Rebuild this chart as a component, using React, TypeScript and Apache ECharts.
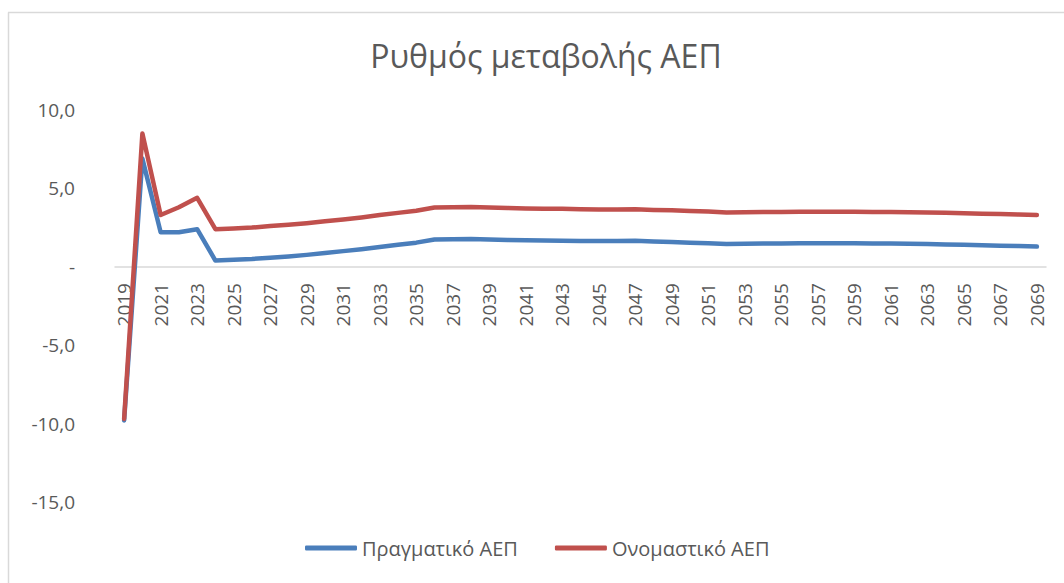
import React, { useEffect, useRef } from "react";
import * as echarts from "echarts";

const years: string[] = [];
for (let y = 2019; y <= 2069; y++) years.push(String(y));

const realGdp = [
  -9.8, 6.9, 2.2, 2.2, 2.4, 0.4, 0.45, 0.5, 0.58, 0.66,
  0.76, 0.88, 1.0, 1.12, 1.26, 1.4, 1.54, 1.74, 1.76, 1.78,
  1.74, 1.71, 1.69, 1.67, 1.66, 1.65, 1.64, 1.64, 1.66, 1.62,
  1.58, 1.54, 1.5, 1.45, 1.47, 1.48, 1.49, 1.5, 1.5, 1.5,
  1.5, 1.49, 1.48, 1.47, 1.45, 1.43, 1.41, 1.38, 1.35, 1.32,
  1.29,
];

const nominalGdp = [
  -9.7, 8.5, 3.3, 3.8, 4.4, 2.4, 2.45, 2.5, 2.6, 2.68,
  2.78, 2.9, 3.02, 3.15, 3.3, 3.44, 3.58, 3.78, 3.8, 3.82,
  3.78, 3.75, 3.72, 3.7, 3.7, 3.67, 3.66, 3.66, 3.67, 3.63,
  3.6, 3.56, 3.52, 3.46, 3.48, 3.5, 3.5, 3.51, 3.51, 3.51,
  3.51, 3.5, 3.49, 3.48, 3.46, 3.44, 3.42, 3.39, 3.36, 3.33,
  3.3,
];

const seriesNames = ["Πραγματικό ΑΕΠ", "Ονομαστικό ΑΕΠ"];
const title = "Ρυθμός μεταβολής ΑΕΠ";

const FONT = "'Open Sans', 'Noto Sans', sans-serif";
const TEXT = "#595959";

export default function App() {
  const ref = useRef<HTMLDivElement>(null);
  useEffect(() => {
    if (!ref.current) return;
    const chart = echarts.init(ref.current, undefined, { renderer: "svg" });
    chart.setOption({
      animation: false,
      backgroundColor: "#ffffff",
      textStyle: { fontFamily: FONT },
      title: {
        text: title,
        left: 541,
        textAlign: "center",
        top: 34,
        textStyle: { fontFamily: FONT, fontSize: 32, fontWeight: "normal", color: TEXT },
      },
      graphic: [
        { type: "line", shape: { x1: 8.5, y1: 12.5, x2: 8.5, y2: 583 }, style: { stroke: "#d9d9d9", lineWidth: 1.5 } },
        { type: "line", shape: { x1: 8, y1: 12.5, x2: 1064, y2: 12.5 }, style: { stroke: "#d9d9d9", lineWidth: 1.5 } },
      ],
      legend: {
        bottom: 20,
        left: 300,
        itemWidth: 52,
        itemHeight: 5,
        itemGap: 37,
        icon: "roundRect",
        data: seriesNames,
        textStyle: { fontFamily: FONT, fontSize: 20, color: TEXT },
      },
      grid: [
        { left: 115, right: 18, top: 110, bottom: 81, containLabel: false },
        { left: 115, right: 18, top: 110, height: 157, containLabel: false },
      ],
      xAxis: [
        {
          type: "category",
          gridIndex: 0,
          data: years,
          boundaryGap: true,
          axisLine: { onZero: true, lineStyle: { color: "#d9d9d9", width: 1.5 } },
          axisTick: { show: false },
          axisLabel: { show: false },
          splitLine: { show: false },
        },
        {
          type: "category",
          gridIndex: 1,
          data: years,
          boundaryGap: true,
          axisLine: { show: false },
          axisTick: { show: false },
          axisLabel: {
            rotate: 90,
            interval: 1,
            margin: 16,
            color: TEXT,
            fontSize: 19,
            fontFamily: FONT,
          },
          splitLine: { show: false },
        },
      ],
      yAxis: [
        {
          type: "value",
          gridIndex: 0,
          min: -15,
          max: 10,
          interval: 5,
          axisLine: { show: false },
          axisTick: { show: false },
          splitLine: { show: false },
          axisLabel: {
            margin: 40,
            color: TEXT,
            fontSize: 19,
            fontFamily: FONT,
            formatter: (v: number) => (v === 0 ? "-" : v.toFixed(1).replace(".", ",")),
          },
        },
        {
          type: "value",
          gridIndex: 1,
          min: 0,
          max: 10,
          show: false,
        },
      ],
      series: [
        {
          name: seriesNames[0],
          type: "line",
          data: realGdp,
          symbol: "none",
          color: "#4a7ebb",
          lineStyle: { width: 4.5, color: "#4a7ebb", cap: "round", join: "round" },
        },
        {
          name: seriesNames[1],
          type: "line",
          data: nominalGdp,
          symbol: "none",
          color: "#c0504d",
          lineStyle: { width: 4.5, color: "#c0504d", cap: "round", join: "round" },
        },
      ],
    });
    return () => chart.dispose();
  }, []);
  return <div ref={ref} style={{ width: 1064, height: 583, position: "absolute", left: 0, top: 0 }} />;
}
